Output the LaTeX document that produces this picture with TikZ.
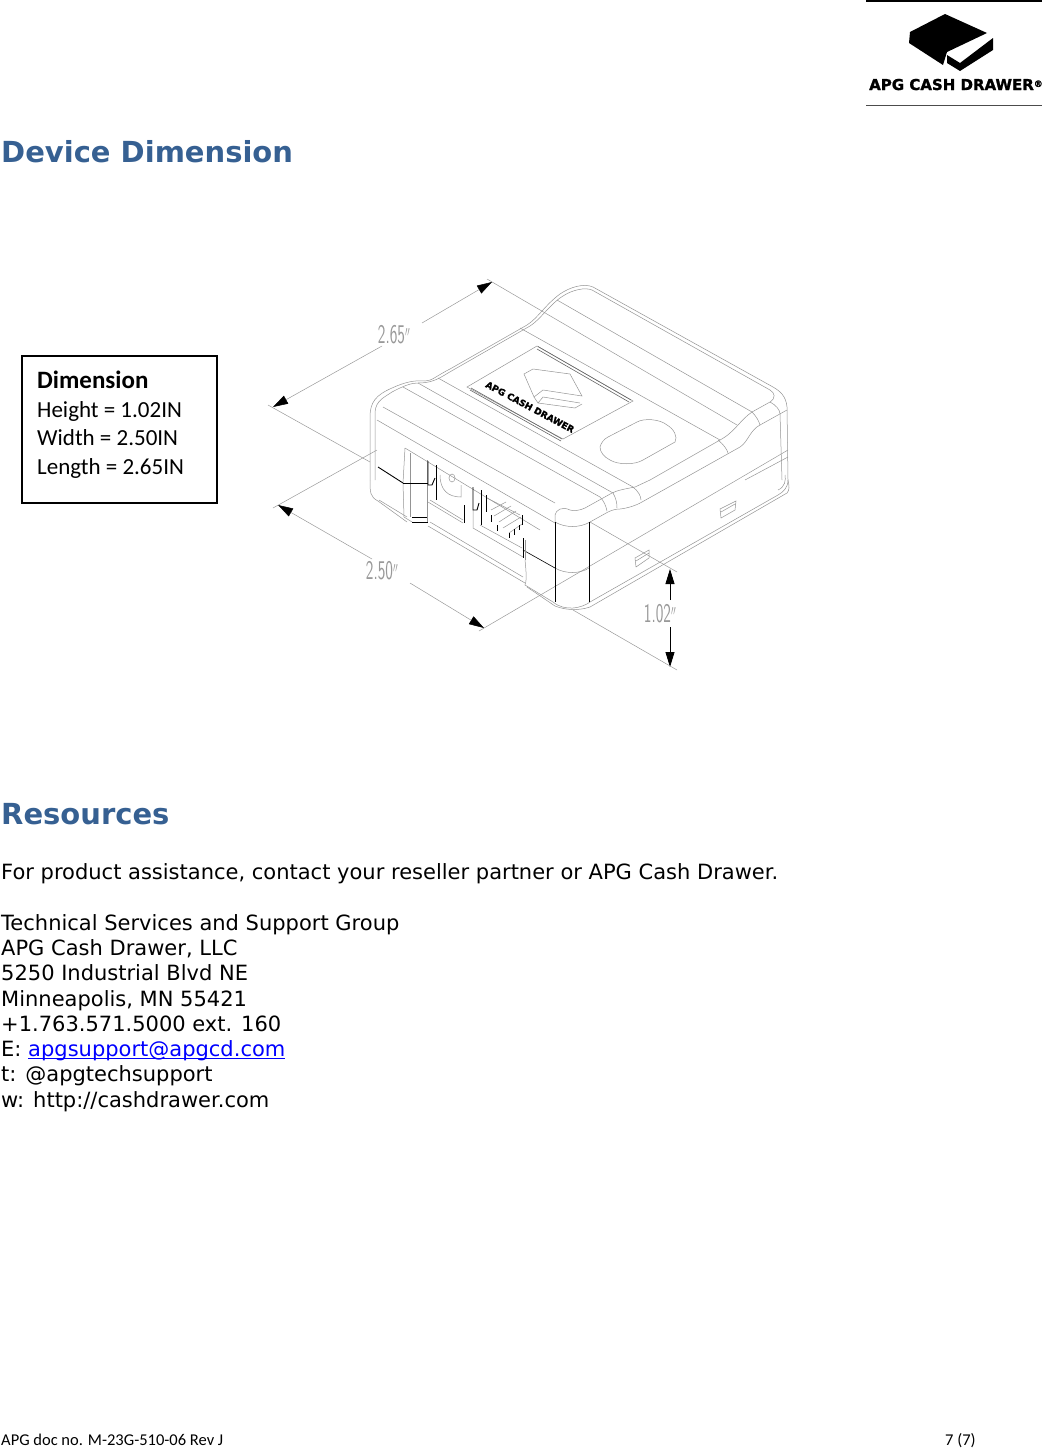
\documentclass[tikz,border=0pt]{standalone}
\usepackage{fontspec}
\setmainfont{DejaVu Sans}
\newfontfamily\calibrifont{Carlito}
\newfontfamily\logofont[UprightFont={* Bold},FakeBold=1.4]{DejaVu Sans}
\usetikzlibrary{arrows.meta}
\definecolor{headblue}{RGB}{54,96,146}
\definecolor{linkblue}{RGB}{0,0,255}
\tikzset{
  heading/.style={anchor=base west, inner sep=0pt, text=headblue, font=\fontsize{29}{34}\selectfont\bfseries},
  bodytext/.style={anchor=north west, inner sep=0pt, align=left, font=\fontsize{21}{25.3}\selectfont},
  footertext/.style={anchor=base west, inner sep=0pt, font=\fontsize{16.5}{18}\selectfont\calibrifont},
  dimlabel/.style={inner sep=0pt, text=black!40, xscale=.6, font=\fontsize{27}{28}\selectfont\sffamily},
  dimline/.style={draw=black!40, line width=.5pt},
  dimarrow/.style={dimline, -{Triangle[length=15pt,width=9pt,color=black]}},
  blackarrow/.style={draw=black, line width=.8pt, -{Triangle[length=15pt,width=9pt,color=black]}},
  devline/.style={draw=black!42, line width=.5pt},
  blackline/.style={draw=black, line width=.9pt},
}
\newcommand{\inchmark}{{\fontsize{21}{21}\selectfont$''$}}
\begin{document}
\begin{tikzpicture}[x=1pt,y=-1pt]
  \useasboundingbox (0,0) rectangle (1042,1449);
  % logo
  \draw[black, line width=2pt] (866,1) -- (1042,1);
  \draw[black!70, line width=.8pt] (866,105.5) -- (1042,105.5);
  \fill (945,14) -- (987,33) -- (947,52) -- (943,65) -- (909,43) -- (910,32) -- cycle;
  \fill (947,55) -- (960,63) -- (993,38) -- (993,50) -- (960,71) -- (947,63) -- cycle;
  \node[anchor=base west, inner sep=0pt, font=\fontsize{15}{16}\selectfont\logofont] (logotext) at (869,90) {APG CASH DRAWER\raisebox{3pt}{\fontsize{9}{9}\selectfont®}};
  % headings and text
  \node[heading] (devicehead) at (1,162) {Device Dimension};
  \node[heading] (resourcehead) at (1,824) {Resources};
  \node[bodytext] (assist) at (1,863) {For product assistance, contact your reseller partner or APG Cash Drawer.};
  \node[bodytext] (contact) at (1,914) {Technical Services and Support Group\\
    APG Cash Drawer, LLC\\
    5250 Industrial Blvd NE\\
    Minneapolis, MN 55421\\
    +1.763.571.5000 ext. 160\\
    E: \textcolor{linkblue}{\underbar{apgsupport@apgcd.com}}\\
    t: @apgtechsupport\\
    w: http://cashdrawer.com};
  \node[footertext] (docno) at (1,1445) {APG doc no. M-23G-510-06 Rev J};
  \node[footertext] (pageno) at (945,1445) {7 (7)};
  % dimension box
  \node[draw, line width=1.6pt, anchor=north west, minimum width=195pt, minimum height=147pt, inner sep=0pt] (dimbox) at (21,355) {};
  \node[anchor=north west, inner sep=0pt, align=left, font=\fontsize{23}{28.6}\selectfont\calibrifont] (dimtext) at (37,371) {\textbf{\fontsize{25}{28.6}\selectfont Dimension}\\Height = 1.02IN\\Width = 2.50IN\\Length = 2.65IN};
  % dimension lines
  \coordinate (a265) at (273,407);
  \coordinate (b265) at (492,282);
  \coordinate (c265) at (382,346);
  \coordinate (d265) at (422,323);
  \coordinate (a250) at (278,505);
  \coordinate (b250) at (484,628);
  \coordinate (c250) at (372,559);
  \coordinate (d250) at (410,583);
  \coordinate (a102) at (670,569);
  \coordinate (b102) at (670,667);
  \coordinate (c102) at (670,600);
  \coordinate (d102) at (670,627);
  \node[dimlabel] (l265) at (394,335) {2.65\inchmark};
  \node[dimlabel] (l250) at (382,571) {2.50\inchmark};
  \node[dimlabel] (l102) at (660,614) {1.02\inchmark};
  \draw[dimarrow] (c265) -- (a265);
  \draw[dimarrow] (d265) -- (b265);
  \draw[dimarrow] (c250) -- (a250);
  \draw[dimarrow] (d250) -- (b250);
  \draw[blackarrow] (c102) -- (a102);
  \draw[blackarrow] (d102) -- (b102);
  % extension lines
  \draw[dimline] (268,405) -- (370,462);
  \draw[dimline] (487,279) -- (737,425);
  \draw[dimline] (273,508) -- (377,450);
  \draw[dimline] (479,631) -- (788,450);
  \draw[dimline] (590,522) -- (677,572);
  \draw[dimline] (573,610) -- (677,670);
  % device outline
  \draw[devline] (370,480) -- (370,417) .. controls (370,402) and (376,395) .. (392,388) .. controls (405,382) and (415,380) .. (425,381) .. controls (432,381) and (436,376) .. (450,369) -- (527,325) .. controls (538,318) and (545,305) .. (560,294) .. controls (570,287) and (584,283) .. (593,287) -- (773,387) .. controls (780,391) and (786,396) .. (787,407) -- (788,480) .. controls (788,488) and (783,492) .. (778,495) -- (590,602) .. controls (582,608) and (565,612) .. (553,602) -- (525,585) .. controls (527,580) and (526,570) .. (525,560);
  \draw[devline] (375,480) -- (375,412) .. controls (376,400) and (385,397) .. (392,392) .. controls (405,385) and (412,383) .. (418,383) .. controls (430,383) and (437,380) .. (448,373) -- (530,326) .. controls (540,320) and (550,304) .. (563,296) .. controls (572,290) and (585,287) .. (592,290) -- (770,390) .. controls (775,393) and (776,398) .. (770,402) -- (752,412) .. controls (740,420) and (735,432) .. (720,440) -- (650,480) -- (635,487) .. controls (625,489) and (618,490) .. (612,493) -- (585,508) .. controls (578,511) and (574,511) .. (570,510);
  \draw[devline] (370,480) .. controls (370,492) and (370,497) .. (378,501) -- (407,522);
  \draw[devline] (379,500) -- (407,517);
  \draw[devline] (430,522) -- (523,577);
  \draw[devline] (428,526) -- (525,583);
  \draw[devline] (778,490) .. controls (785,487) and (786,480) .. (785,475);
  \draw[devline] (590,607) -- (787,493) .. controls (790,490) and (789,485) .. (788,480);
  \draw[devline] (527,587) -- (555,606) .. controls (565,610) and (578,611) .. (590,607);
  % top face lines
  \draw[devline] (383,407) -- (555,503);
  \draw[devline] (377,420) -- (555,523);
  \draw[devline] (403,387) -- (600,497);
  \draw[devline] (418,383) -- (613,493);
  \draw[devline] (438,378) -- (633,487);
  \draw[devline] (557,300) -- (752,412);
  \draw[devline] (520,328) -- (720,440);
  \draw[devline] (590,522) -- (608,512) .. controls (612,510) and (616,509) .. (620,509) .. controls (628,508) and (635,506) .. (642,502) -- (740,447) .. controls (748,442) and (750,430) .. (760,425) -- (787,410);
  \draw[devline] (745,480) -- (788,457);
  \draw[devline] (600,497) .. controls (604,501) and (606,506) .. (607,511);
  \draw[devline] (613,493) .. controls (616,498) and (617,503) .. (617,508);
  \draw[devline] (633,487) .. controls (638,491) and (641,496) .. (641,500);
  \draw[devline] (718,440) .. controls (723,444) and (727,449) .. (728,453);
  \draw[devline] (752,412) .. controls (756,416) and (759,421) .. (760,425);
  \draw[devline] (770,402) .. controls (776,405) and (780,410) .. (780,414) -- (782,480);
  % front corner
  \draw[devline] (555,522) -- (555,515) .. controls (556,510) and (562,506) .. (570,510);
  \draw[devline] (555,522) .. controls (565,528) and (580,528) .. (590,522);
  \draw[devline] (555,568) .. controls (565,574) and (580,574) .. (589,568);
  \draw[blackline] (555,522) -- (555,602);
  \draw[blackline] (589,522) -- (589,602);
  \draw[black, line width=.6pt] (523,550) -- (555,568);
  % panel with logo
  \draw[devline] (467,387) -- (537,346) -- (633,401) -- (563,439) -- cycle;
  \draw[black!60, line width=.6pt] (537,349) -- (629,402) (538,346.5) -- (631,400);
  \draw[black!60, line width=.6pt] (471,388) -- (562,439) (470,390) -- (561,441);
  \draw[devline] (524,374) -- (533,369) -- (570,374) -- (582,396) -- (543,390) -- (534,397) -- cycle;
  \draw[devline] (534,397) -- (538,403) -- (575,408) -- (582,404) (538,403) -- (543,397) -- (580,403);
  \node[rotate=-28, inner sep=0pt, font=\fontsize{9}{10}\selectfont\logofont] (paneltext) at (530,407) {APG CASH DRAWER};
  % button
  \draw[devline] (600,447) .. controls (601,443) and (604,439) .. (608,437) -- (637,422) .. controls (644,418) and (660,419) .. (667,425) .. controls (674,429) and (678,437) .. (675,442) -- (643,460) .. controls (635,465) and (618,465) .. (610,460) .. controls (604,457) and (600,452) .. (600,447) -- cycle;
  % slots
  \draw[devline] (635,558) -- (649,550) -- (649,558) -- (636,567) -- cycle (636,561) -- (649,553);
  \draw[devline] (720,509) -- (736,501) -- (735,510) -- (721,518) -- cycle (721,512) -- (735,504);
  % connector opening
  \draw[devline] (405,448) -- (540,530);
  \draw[devline] (405,448) -- (403,483) -- (404,517) -- (412,522);
  \draw[devline] (410,453) -- (410,517);
  \draw[devline] (427,460) -- (427,523);
  \draw[devline] (430,500) -- (463,520) (428,502) -- (463,523);
  \draw[devline] (473,510) -- (473,528) -- (523,557);
  \draw[devline] (480,525) -- (522,548);
  \draw[devline] (487,498) -- (520,515);
  \draw[devline] (440,475) .. controls (440,490) and (448,497) .. (461,497) -- (461,485);
  \draw[devline] (452,478) ellipse (3pt and 4pt);
  \draw[devline] (525,560) -- (525,540);
  \draw[devline] (491,510) -- (506,502) (494,516) -- (511,506) (499,522) -- (516,511) (503,528) -- (521,517) (509,533) -- (522,524);
  \draw[blackline] (403,483) -- (428,483);
  \draw[blackline] (412,517) -- (427,517) (412,522) -- (428,522);
  \draw[blackline] (378,467) -- (403,483);
  \draw[blackline] (428,461) -- (428,485) -- (432,485) -- (435,478);
  \draw[blackline] (436,465) -- (436,500);
  \draw[blackline] (464,505) -- (464,523);
  \draw[blackline] (473,487) -- (473,510) -- (477,510) -- (479,503);
  \draw[blackline] (481,490) -- (481,525);
  \draw[blackline] (486,495) -- (486,512) (491,515) -- (491,522) (497,525) -- (497,531);
  \draw[blackline] (509,533) -- (509,538) (514,529) -- (514,535) (519,525) -- (519,530);
  \draw[blackline] (522,515) -- (522,525) (523,538) -- (523,558);
\end{tikzpicture}
\end{document}
